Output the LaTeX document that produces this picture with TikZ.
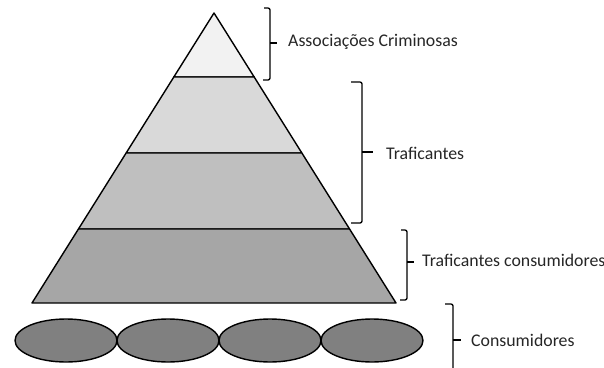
\documentclass[tikz,border=0pt]{standalone}
\usepackage{fontspec}
\setmainfont{Carlito}
\usetikzlibrary{calc,shapes.geometric}
\definecolor{layerA}{HTML}{F2F2F2}
\definecolor{layerB}{HTML}{D9D9D9}
\definecolor{layerC}{HTML}{BFBFBF}
\definecolor{layerD}{HTML}{A6A6A6}
\definecolor{layerE}{HTML}{808080}
\tikzset{
  layer/.style={draw=black, line width=1.4pt, line join=round},
  cons/.style={draw=black, line width=1.4pt, fill=layerE, ellipse, minimum width=102pt, minimum height=43pt, inner sep=0pt},
  bracepath/.style={draw=black, line width=1.3pt, rounded corners=2pt},
  label/.style={anchor=west, inner sep=0pt, font=\fontsize{17.8}{20}\selectfont, text=black!85}
}
\begin{document}
\begin{tikzpicture}[x=1pt,y=-1pt]
\useasboundingbox (0,0) rectangle (604,367);
\coordinate (A) at (214,13);
\coordinate (BL) at (32,303);
\coordinate (BR) at (396,303);
\coordinate (L1) at ($(A)!0.2207!(BL)$);
\coordinate (R1) at ($(A)!0.2207!(BR)$);
\coordinate (L2) at ($(A)!0.4828!(BL)$);
\coordinate (R2) at ($(A)!0.4828!(BR)$);
\coordinate (L3) at ($(A)!0.7448!(BL)$);
\coordinate (R3) at ($(A)!0.7448!(BR)$);
\path[layer, fill=layerA] (A) -- (R1) -- (L1) -- cycle;
\path[layer, fill=layerB] (L1) -- (R1) -- (R2) -- (L2) -- cycle;
\path[layer, fill=layerC] (L2) -- (R2) -- (R3) -- (L3) -- cycle;
\path[layer, fill=layerD] (L3) -- (R3) -- (BR) -- (BL) -- cycle;
% consumers
\node[cons] (c1) at (66,340.5) {};
\node[cons] (c2) at (168,340.5) {};
\node[cons] (c3) at (270,340.5) {};
\node[cons] (c4) at (372,340.5) {};
% braces
\path[bracepath] (264,8) -- (270,8) -- (270,80) -- (263,80);
\path[bracepath] (270,43) -- (277,43);
\node[label] (t1) at (288,42) {Associações Criminosas};
\path[bracepath] (351,82) -- (362,82) -- (362,223) -- (351,223);
\path[bracepath] (362,152) -- (373,152);
\node[label] (t2) at (386,153) {Traficantes};
\path[bracepath] (401,230) -- (407,230) -- (407,300) -- (400,300);
\path[bracepath] (407,262) -- (414,262);
\node[label] (t3) at (422,260) {Traficantes consumidores};
\path[bracepath] (445,304) -- (453,304) -- (453,380);
\path[bracepath] (453,340) -- (461,340);
\node[label] (t4) at (471,340) {Consumidores};
\end{tikzpicture}
\end{document}
